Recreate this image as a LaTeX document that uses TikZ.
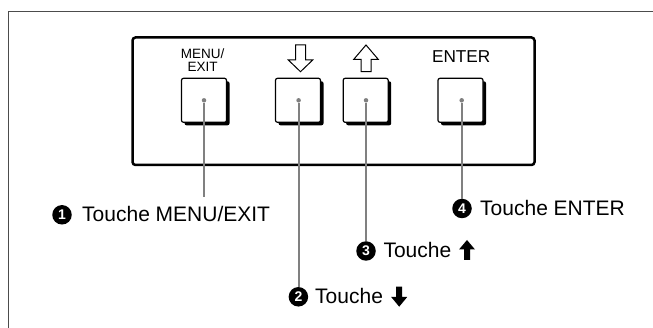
\documentclass[tikz,border=0pt]{standalone}
\usepackage{fontspec}
\setmainfont{Liberation Sans}
\usetikzlibrary{shadows}
\definecolor{leadgray}{gray}{0.5}
\definecolor{framegray}{gray}{0.3}
\tikzset{
  btn/.style={draw=black, fill=white, line width=1.2pt, rounded corners=2pt,
    minimum width=45pt, minimum height=44pt, inner sep=0pt,
    drop shadow={fill=black, opacity=1, shadow xshift=3pt, shadow yshift=-3pt}},
  dot/.style={circle, fill=leadgray, inner sep=0pt, minimum size=4.5pt},
  lead/.style={draw=leadgray, line width=2pt},
  num/.style={circle, fill=black, text=white, inner sep=0pt, minimum size=19.5pt,
    font=\bfseries\fontsize{14}{14}\selectfont},
  lbl/.style={inner sep=0pt, anchor=base west, font=\fontsize{21}{25}\selectfont},
  keylbl/.style={inner sep=0pt, anchor=base, align=center},
  outarrow/.style={draw=black, line width=1pt, fill=white, line join=miter},
}
\begin{document}
\begin{tikzpicture}[x=1pt,y=-1pt]
\useasboundingbox (0,0) rectangle (653,328);
% outer frame
\draw[framegray, line width=1.5pt] (653,11.5) -- (8.5,11.5) -- (8.5,328);
% panel
\draw[line width=2.5pt, rounded corners=3pt] (132.5,37.5) rectangle (534.5,165);
% buttons
\node[btn] (b1) at (204,100.3) {};
\node[btn] (b2) at (298,100.3) {};
\node[btn] (b3) at (365.7,100.3) {};
\node[btn] (b4) at (460.5,100.3) {};
\node[dot] (d1) at (204,100.3) {};
\node[dot] (d2) at (298.6,100.3) {};
\node[dot] (d3) at (366,100.3) {};
\node[dot] (d4) at (461.7,100.3) {};
% key labels
\node[keylbl, font=\fontsize{13.5}{13.5}\selectfont] (k1a) at (202.7,58.3) {MENU/};
\node[keylbl, font=\fontsize{13.5}{13.5}\selectfont] (k1b) at (202.7,71.7) {EXIT};
\node[keylbl, font=\fontsize{17.2}{17.2}\selectfont] (k4) at (461.2,62.3) {ENTER};
% outline arrows
\draw[outarrow] (295.5,45) -- (305.5,45) -- (305.5,60) -- (312.7,60) -- (300.5,71.7)
  -- (288.3,60) -- (295.5,60) -- cycle;
\draw[outarrow] (366,45) -- (378.2,59.3) -- (371,59.3) -- (371,71.7) -- (361,71.7)
  -- (361,59.3) -- (353.8,59.3) -- cycle;
% callout numbers
\node[num] (n1) at (62,214.8) {1};
\node[num] (n4) at (462,208.5) {4};
\node[num] (n3) at (366,251) {3};
\node[num] (n2) at (298.4,296.8) {2};
% callout texts
\node[lbl] (t1) at (82,221.7) {Touche MENU/EXIT};
\node[lbl] (t4) at (480,216) {Touche ENTER};
\node[lbl] (t3) at (383.3,258) {Touche};
\node[lbl] (t2) at (315,304) {Touche};
% filled arrows
\fill (467,240) -- (475,249.5) -- (470,249.5) -- (470,260) -- (464,260) -- (464,249.5)
  -- (459,249.5) -- cycle;
\fill (396.2,286.7) -- (402.2,286.7) -- (402.2,297) -- (407.2,297) -- (399.2,306.7)
  -- (391.2,297) -- (396.2,297) -- cycle;
% leaders
\coordinate (e1) at (204,196.7);
\draw[lead] (d1) -- (e1);
\draw[lead] (d2) -- (d2 |- n2.north);
\draw[lead] (d3) -- (d3 |- n3.north);
\draw[lead] (d4) -- (d4 |- n4.north);
\end{tikzpicture}
\end{document}
